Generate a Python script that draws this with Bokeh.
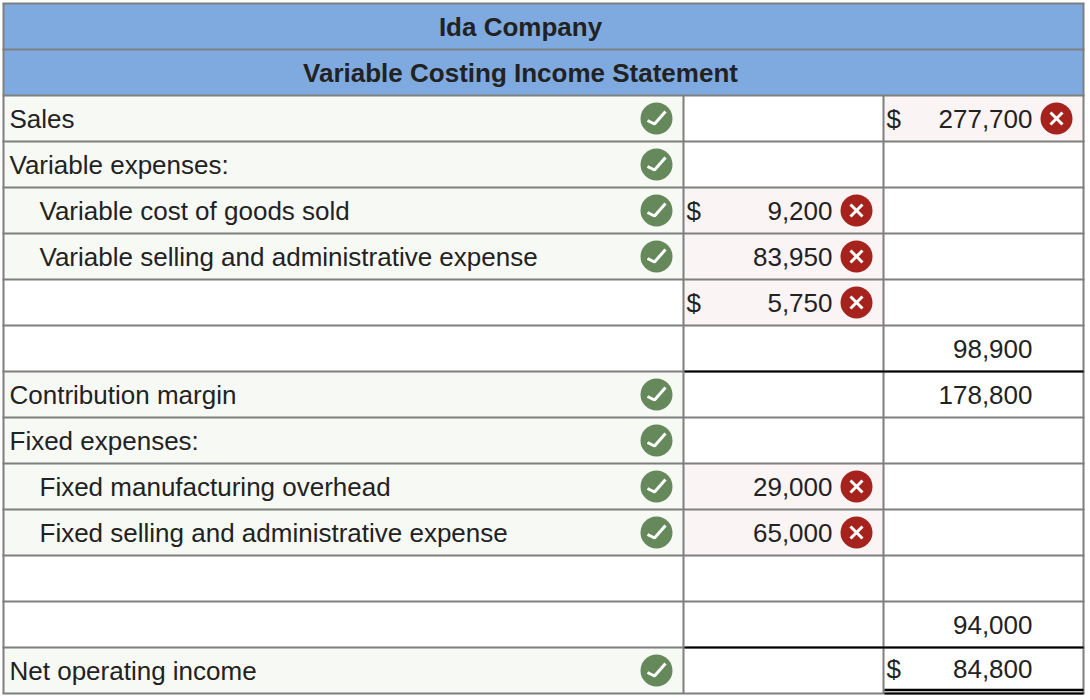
from bokeh.core.properties import value
from bokeh.embed import file_html
from bokeh.models import Range1d
from bokeh.plotting import figure
from bokeh.resources import INLINE

titles = ["Ida Company", "Variable Costing Income Statement"]

# one entry per statement row, below the two title rows
labels = ["Sales", "Variable expenses:", "Variable cost of goods sold",
          "Variable selling and administrative expense", "", "",
          "Contribution margin", "Fixed expenses:", "Fixed manufacturing overhead",
          "Fixed selling and administrative expense", "", "", "Net operating income"]
indented = [False, False, True, True, False, False,
            False, False, True, True, False, False, False]
amounts_mid = ["", "", "9,200", "83,950", "5,750", "", "", "", "29,000", "65,000", "", "", ""]
dollar_mid = [False, False, True, False, True, False,
              False, False, False, False, False, False, False]
wrong_mid = [False, False, True, True, True, False,
             False, False, True, True, False, False, False]
amounts_right = ["277,700", "", "", "", "", "98,900", "178,800",
                 "", "", "", "", "94,000", "84,800"]
dollar_right = [True, False, False, False, False, False, False,
                False, False, False, False, False, True]
wrong_right = [True, False, False, False, False, False, False,
               False, False, False, False, False, False]

BLUE = "#7faae0"
GREEN = "#f7f9f5"
PINK = "#faf4f4"
GRID = "#7f7f7f"
INK = "#222222"
OK = "#65895a"
BAD = "#a5231c"
FONT = value("Liberation Sans")
SIZE = "26px"

X0, X1, X2, X3 = 3, 683, 883, 1083
ROW_H = 46
TOP = 3
WIDTH, HEIGHT = 1090, 700


def y_of(row):
    return row + 0.5


def add_check(p, row):
    y = y_of(row)
    p.circle([656], [y], radius=16, fill_color=OK, line_color=None)
    p.line([656 - 9, 656 - 2, 656 + 9],
           [y + 2 / ROW_H, y + 5.5 / ROW_H, y - 7 / ROW_H],
           line_color="white", line_width=3)


def add_cross(p, row, x):
    y = y_of(row)
    d = 6 / ROW_H
    p.circle([x], [y], radius=16, fill_color=BAD, line_color=None)
    p.multi_line([[x - 6, x + 6], [x - 6, x + 6]], [[y - d, y + d], [y + d, y - d]],
                 line_color="white", line_width=3)


p = figure(width=WIDTH, height=HEIGHT, output_backend="svg", toolbar_location=None,
           x_range=Range1d(0, WIDTH),
           y_range=Range1d((HEIGHT - TOP) / ROW_H, -TOP / ROW_H),
           min_border=0, outline_line_color=None, margin=0)
p.axis.visible = False
p.grid.visible = False

# the statement rows start under the two title rows
first = len(titles)
last = first + len(labels)
rows = list(range(first, last))

for i, title in enumerate(titles):
    p.quad(left=X0, right=X3, top=i, bottom=i + 1, fill_color=BLUE, line_color=None)
    p.text([(X0 + X3) / 2 - 23], [y_of(i)], text=[title], text_align="center",
           text_baseline="middle", text_font=FONT, text_font_size=SIZE,
           text_font_style="bold", text_color=INK)

for row, label, mid, right in zip(rows, labels, wrong_mid, wrong_right):
    if label:
        p.quad(left=X0, right=X1, top=row, bottom=row + 1, fill_color=GREEN, line_color=None)
    if mid:
        p.quad(left=X1, right=X2, top=row, bottom=row + 1, fill_color=PINK, line_color=None)
    if right:
        p.quad(left=X2, right=X3, top=row, bottom=row + 1, fill_color=PINK, line_color=None)

# grid
for row in range(last + 1):
    p.line([X0 - 1, X3 + 1], [row, row], line_color=GRID, line_width=2)
p.line([X0, X0], [0, last], line_color=GRID, line_width=2)
p.line([X3, X3], [0, last], line_color=GRID, line_width=2)
for x in (X1, X2):
    p.line([x, x], [first, last], line_color=GRID, line_width=2)

# subtotal rules
p.line([X1 + 1, X3], [first + 6, first + 6], line_color="black", line_width=2)
p.line([X1 + 1, X3], [first + 12, first + 12], line_color="black", line_width=2)
p.line([X2 + 1, X3], [last - 3.5 / ROW_H] * 2, line_color="black", line_width=2.5)
p.line([X2 + 1, X3], [last, last], line_color="black", line_width=2)

for row, label, indent in zip(rows, labels, indented):
    if label:
        p.text([39 if indent else 9], [y_of(row)], text=[label], text_baseline="middle",
               text_font=FONT, text_font_size=SIZE, text_color=INK)
        add_check(p, row)

for row, amount, dollar, wrong in zip(rows, amounts_mid, dollar_mid, wrong_mid):
    if amount:
        p.text([832], [y_of(row)], text=[amount], text_align="right", text_baseline="middle",
               text_font=FONT, text_font_size=SIZE, text_color=INK)
    if dollar:
        p.text([686], [y_of(row)], text=["$"], text_baseline="middle",
               text_font=FONT, text_font_size=SIZE, text_color=INK)
    if wrong:
        add_cross(p, row, 856)

for row, amount, dollar, wrong in zip(rows, amounts_right, dollar_right, wrong_right):
    # the total sits a little higher because of the double rule under it
    y = y_of(row) - (2 / ROW_H if row == last - 1 else 0)
    if amount:
        p.text([1032], [y], text=[amount], text_align="right", text_baseline="middle",
               text_font=FONT, text_font_size=SIZE, text_color=INK)
    if dollar:
        p.text([886], [y], text=["$"], text_baseline="middle",
               text_font=FONT, text_font_size=SIZE, text_color=INK)
    if wrong:
        add_cross(p, row, 1056)

open("out.html", "w").write(file_html(p, INLINE))
